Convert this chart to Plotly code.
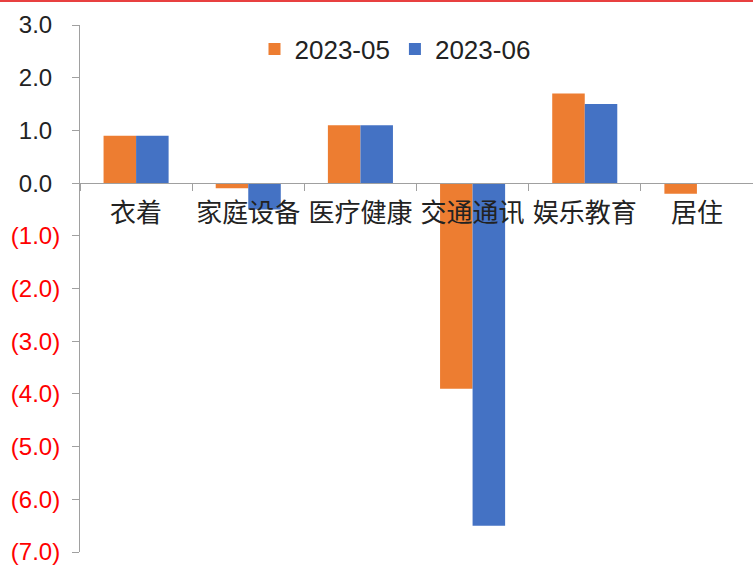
import plotly.graph_objects as go

categories = ["衣着", "家庭设备", "医疗健康", "交通通讯", "娱乐教育", "居住"]
s_2023_05 = [0.9, -0.1, 1.1, -3.9, 1.7, -0.2]
s_2023_06 = [0.9, -0.5, 1.1, -6.5, 1.5, 0.0]
series_names = ["2023-05", "2023-06"]
tick_vals = [3, 2, 1, 0, -1, -2, -3, -4, -5, -6, -7]


def fmt(v):
    if v < 0:
        return "<span style='color:#FF0000'>(%.1f)</span>" % abs(v)
    return "%.1f<span style='color:rgba(0,0,0,0)'>)</span>" % v


tick_text = [fmt(v) for v in tick_vals]

W, H = 753, 565
mt, mb, ml, mr = 25, 13, 80, 0
ymin, ymax = -7, 3
zero_pos = (0 - ymin) / (ymax - ymin)
plot_h = H - mt - mb
plot_w = W - ml - mr

font_family = "Liberation Sans, Noto Sans CJK SC, sans-serif"

fig = go.Figure()
fig.add_trace(go.Bar(x=categories, y=s_2023_05, name=series_names[0],
                     marker=dict(color="#ED7D31", line=dict(width=0))))
fig.add_trace(go.Bar(x=categories, y=s_2023_06, name=series_names[1],
                     marker=dict(color="#4472C4", line=dict(width=0))))

fig.update_layout(
    width=W, height=H,
    margin=dict(l=ml, r=mr, t=mt, b=mb, pad=0),
    plot_bgcolor="white", paper_bgcolor="white",
    barmode="group", bargap=0.42, bargroupgap=0,
    font=dict(family=font_family, color="#222222"),
    showlegend=True,
    legend=dict(orientation="h", x=(395 - ml) / plot_w, xanchor="center",
                y=(H - mb - 49) / plot_h, yanchor="middle",
                font=dict(size=26, color="#222222"), bgcolor="rgba(0,0,0,0)",
                itemwidth=30, tracegroupgap=0),
    xaxis=dict(
        type="category", anchor="free", position=zero_pos,
        showline=True, linecolor="#A0A0A0", linewidth=1,
        ticks="outside", tickson="boundaries", ticklen=7, tickcolor="#A0A0A0",
        tickfont=dict(size=26, color="#222222"), ticklabelstandoff=7,
        tickangle=0,
        showgrid=False, zeroline=False, fixedrange=True,
    ),
    yaxis=dict(
        range=[ymin, ymax], tickvals=tick_vals, ticktext=tick_text,
        showline=True, linecolor="#A0A0A0", linewidth=1,
        ticks="outside", ticklen=7, tickcolor="#A0A0A0",
        tickfont=dict(size=24, color="#222222"), ticklabelstandoff=7,
        ticklabeloverflow="allow",
        showgrid=False, zeroline=False,
    ),
)

top_y = (H - mb - 1) / plot_h
fig.add_shape(type="line", xref="paper", yref="paper",
              x0=-ml / plot_w, x1=1, y0=top_y, y1=top_y,
              line=dict(color="#E00000", width=1.5))

fig.write_html("out.html", config={"displayModeBar": False},
               post_script="document.body.style.margin='0';document.body.style.overflow='hidden';")
